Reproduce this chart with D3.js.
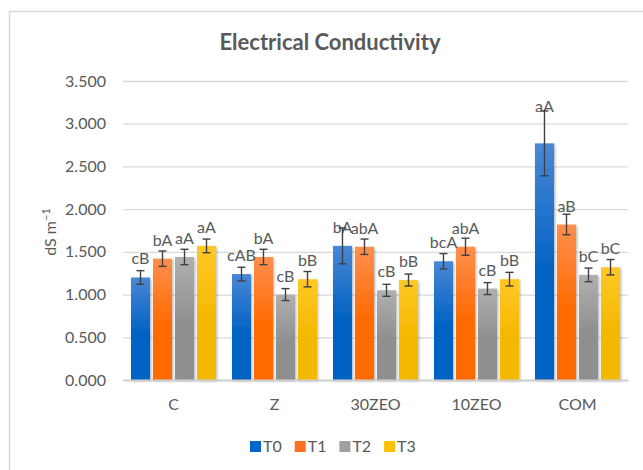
<!DOCTYPE html>
<html>
<head>
<meta charset="utf-8">
<script src="https://cdn.jsdelivr.net/npm/d3@7/dist/d3.min.js"></script>
<style>
  html, body { margin: 0; padding: 0; background: #fff; }
  svg { display: block; }
  text { font-family: Lato, "Open Sans", sans-serif; fill: #595959; }
</style>
</head>
<body>
<svg id="chart" width="643" height="470"></svg>
<script>
// Electrical conductivity (dS m-1) by substrate and treatment
const categories = ["C", "Z", "30ZEO", "10ZEO", "COM"];
const seriesNames = ["T0", "T1", "T2", "T3"];

const T0 = [1.20, 1.24, 1.57, 1.39, 2.77];
const T1 = [1.42, 1.44, 1.56, 1.56, 1.82];
const T2 = [1.44, 1.00, 1.05, 1.07, 1.23];
const T3 = [1.57, 1.18, 1.17, 1.18, 1.32];

const errT0 = [0.08, 0.08, 0.21, 0.09, 0.38];
const errT1 = [0.09, 0.09, 0.09, 0.10, 0.12];
const errT2 = [0.09, 0.07, 0.07, 0.07, 0.08];
const errT3 = [0.08, 0.09, 0.07, 0.08, 0.09];

const lettersT0 = ["cB", "cAB", "bA", "bcA", "aA"];
const lettersT1 = ["bA", "bA", "abA", "abA", "aB"];
const lettersT2 = ["aA", "cB", "cB", "cB", "bC"];
const lettersT3 = ["aA", "bB", "bB", "bB", "bC"];

const yTicks = [0, 0.5, 1.0, 1.5, 2.0, 2.5, 3.0, 3.5];

const values = [T0, T1, T2, T3];
const errors = [errT0, errT1, errT2, errT3];
const letters = [lettersT0, lettersT1, lettersT2, lettersT3];

// colour pairs: top of the bar, bottom of the bar
const fills = [
  ["#4a87d6", "#0062c2"],
  ["#ff8f4f", "#ff6a00"],
  ["#b0b0b0", "#8f8f8f"],
  ["#ffc826", "#f5b800"]
];
const legendColors = ["#0066cc", "#ff7020", "#a0a0a0", "#ffc000"];

const rows = [];
categories.forEach((c, ci) => {
  seriesNames.forEach((s, si) => {
    rows.push({
      cat: c, series: s, si,
      value: values[si][ci],
      err: errors[si][ci],
      label: letters[si][ci]
    });
  });
});

const svg = d3.select("#chart");

// outer chart frame
svg.append("rect")
  .attr("x", 9.5).attr("y", 11.5)
  .attr("width", 700).attr("height", 520)
  .attr("fill", "none")
  .attr("stroke", "#d9d9d9")
  .attr("stroke-width", 1.5);

const defs = svg.append("defs");
fills.forEach((f, i) => {
  const g = defs.append("linearGradient")
    .attr("id", "grad" + i)
    .attr("x1", 0).attr("y1", 0).attr("x2", 0).attr("y2", 1);
  g.append("stop").attr("offset", "0%").attr("stop-color", f[0]);
  g.append("stop").attr("offset", "55%").attr("stop-color", f[1]);
  g.append("stop").attr("offset", "100%").attr("stop-color", f[1]);
});
const shadow = defs.append("filter")
  .attr("id", "shadow")
  .attr("x", "-20%").attr("y", "-20%").attr("width", "150%").attr("height", "150%");
shadow.append("feDropShadow")
  .attr("dx", 1.2).attr("dy", 1.2).attr("stdDeviation", 1.2)
  .attr("flood-color", "#000").attr("flood-opacity", 0.3);

const plot = { left: 123, right: 628, top: 81, bottom: 380 };

const x0 = d3.scaleBand()
  .domain(categories)
  .range([plot.left, plot.right])
  .paddingInner(0.158)
  .paddingOuter(0.079);

const x1 = d3.scaleBand()
  .domain(seriesNames)
  .range([0, x0.bandwidth()])
  .paddingInner(0.136);

const y = d3.scaleLinear()
  .domain([0, 3.5])
  .range([plot.bottom, plot.top]);

// title
svg.append("text")
  .attr("x", 330).attr("y", 50)
  .attr("text-anchor", "middle")
  .style("font-size", "22px")
  .style("font-weight", "bold")
  .text("Electrical Conductivity");

// gridlines and value axis
const yAxis = d3.axisLeft(y)
  .tickValues(yTicks)
  .tickFormat(d3.format(".3f"))
  .tickSize(-(plot.right - plot.left))
  .tickPadding(17);

const yg = svg.append("g")
  .attr("transform", `translate(${plot.left},0)`)
  .call(yAxis);
yg.select(".domain").remove();
yg.selectAll(".tick line")
  .attr("stroke", "#d9d9d9")
  .attr("stroke-width", 1.3);
yg.selectAll(".tick text")
  .style("font-size", "16px")
  .attr("fill", "#595959");

// axis title
svg.append("text")
  .attr("transform", "translate(56,232) rotate(-90)")
  .attr("text-anchor", "middle")
  .style("font-size", "16px")
  .call(t => {
    t.append("tspan").text("dS m");
    t.append("tspan").attr("dy", -6).style("font-size", "11px").text("\u22121");
  });

// bars
const groups = svg.append("g")
  .selectAll("g")
  .data(categories)
  .join("g")
  .attr("transform", d => `translate(${x0(d)},0)`);

groups.selectAll("rect")
  .data(c => rows.filter(r => r.cat === c))
  .join("rect")
  .attr("x", d => x1(d.series))
  .attr("width", x1.bandwidth())
  .attr("y", d => y(d.value))
  .attr("height", d => y(0) - y(d.value))
  .attr("fill", d => `url(#grad${d.si})`)
  .attr("filter", "url(#shadow)");

// category axis
const xg = svg.append("g")
  .attr("transform", `translate(0,${plot.bottom})`)
  .call(d3.axisBottom(x0).tickSize(0).tickPadding(19));
xg.select(".domain")
  .attr("stroke", "#d0d0d0")
  .attr("stroke-width", 2);
xg.selectAll(".tick text")
  .style("font-size", "16px")
  .attr("fill", "#595959");

// significance letters
groups.selectAll("text.lbl")
  .data(c => rows.filter(r => r.cat === c))
  .join("text")
  .attr("class", "lbl")
  .attr("x", d => x1(d.series) + x1.bandwidth() / 2)
  .attr("y", d => d.err > 0.3 ? y(d.value + d.err) + 1 : y(d.value) - 13)
  .attr("text-anchor", "middle")
  .style("font-size", "16px")
  .text(d => d.label);

// error bars
const cap = 4;
const eb = groups.selectAll("g.err")
  .data(c => rows.filter(r => r.cat === c))
  .join("g")
  .attr("class", "err")
  .attr("stroke", "#404040")
  .attr("stroke-width", 1.4);
eb.append("line")
  .attr("x1", d => x1(d.series) + x1.bandwidth() / 2)
  .attr("x2", d => x1(d.series) + x1.bandwidth() / 2)
  .attr("y1", d => y(d.value - d.err))
  .attr("y2", d => y(d.value + d.err));
eb.append("line")
  .attr("x1", d => x1(d.series) + x1.bandwidth() / 2 - cap)
  .attr("x2", d => x1(d.series) + x1.bandwidth() / 2 + cap)
  .attr("y1", d => y(d.value - d.err))
  .attr("y2", d => y(d.value - d.err));
eb.append("line")
  .attr("x1", d => x1(d.series) + x1.bandwidth() / 2 - cap)
  .attr("x2", d => x1(d.series) + x1.bandwidth() / 2 + cap)
  .attr("y1", d => y(d.value + d.err))
  .attr("y2", d => y(d.value + d.err));

// legend
const legend = svg.append("g")
  .selectAll("g")
  .data(seriesNames)
  .join("g")
  .attr("transform", (d, i) => `translate(${250 + i * 44.7},441)`);
legend.append("rect")
  .attr("width", 11).attr("height", 11)
  .attr("fill", (d, i) => legendColors[i]);
legend.append("text")
  .attr("x", 13).attr("y", 11)
  .style("font-size", "16px")
  .text(d => d);
</script>
</body>
</html>
